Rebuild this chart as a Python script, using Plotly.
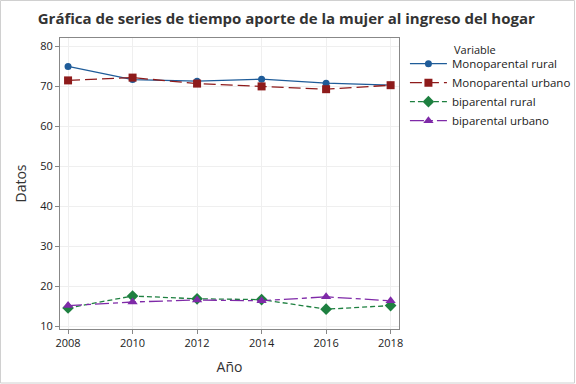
import plotly.graph_objects as go

years = [2008, 2010, 2012, 2014, 2016, 2018]
mono_rural = [74.9, 71.6, 71.2, 71.7, 70.7, 70.2]
mono_urbano = [71.4, 72.1, 70.6, 69.9, 69.2, 70.2]
bi_rural = [14.5, 17.5, 16.8, 16.6, 14.2, 15.1]
bi_urbano = [15.1, 16.0, 16.5, 16.3, 17.3, 16.3]

series = [
    ("Monoparental rural", mono_rural, "#1F5C99", "solid", "circle", 7),
    ("Monoparental urbano", mono_urbano, "#8E1B1B", "12px,5px", "square", 8),
    ("biparental rural", bi_rural, "#1E8040", "5px,3px", "diamond", 9),
    ("biparental urbano", bi_urbano, "#7F2AA8", "14px,4px,5px,4px", "triangle-up", 9),
]

fig = go.Figure()
for name, vals, color, dash, sym, size in series:
    fig.add_trace(go.Scatter(
        x=years, y=vals, name=name, mode="lines+markers",
        line=dict(color=color, width=1.3, dash=dash),
        marker=dict(symbol=sym, size=size, color=color),
    ))

font = "Open Sans, Noto Sans, sans-serif"
fig.update_layout(
    width=576, height=384,
    paper_bgcolor="white", plot_bgcolor="white",
    margin=dict(l=60, r=177, t=38, b=55, autoexpand=False),
    font=dict(family=font, size=11, color="#222"),
    title=dict(text="<b>Gráfica de series de tiempo aporte de la mujer al ingreso del hogar</b>",
               x=0.497, xanchor="center", y=0.95, yanchor="middle",
               font=dict(size=15, color="#333")),
    legend=dict(xref="container", yref="container", x=0.703, xanchor="left", y=0.872, yanchor="top",
                font=dict(size=11.5), tracegroupgap=0, itemwidth=37,
                bgcolor="rgba(0,0,0,0)"),
    annotations=[dict(text="Variable", xref="paper", yref="paper", x=1.156, y=0.959,
                      xanchor="left", yanchor="middle", showarrow=False,
                      font=dict(size=11, color="#222"))],
    xaxis=dict(range=[2007.75, 2018.26], tickvals=years, ticks="outside", ticklen=4,
               tickcolor="#888", showgrid=True, gridcolor="#EFEFEF", zeroline=False,
               showline=True, linecolor="#888", mirror=True,
               title=dict(text="Año", font=dict(size=14, color="#333"), standoff=12)),
    yaxis=dict(range=[9.25, 82], tickvals=[10, 20, 30, 40, 50, 60, 70, 80], ticks="outside",
               ticklen=4, tickcolor="#888", showgrid=True, gridcolor="#EFEFEF", zeroline=False,
               showline=True, linecolor="#888", mirror=True,
               title=dict(text="Datos", font=dict(size=14, color="#333"), standoff=10)),
    shapes=[dict(type="rect", xref="paper", yref="paper", x0=-0.1755, x1=1.5177, y0=-0.1856, y1=1.1289,
                 line=dict(color="#D0D0D0", width=1), layer="below")],
)

fig.write_html("out.html", config={"displayModeBar": False},
               post_script="document.body.style.margin='0';")
